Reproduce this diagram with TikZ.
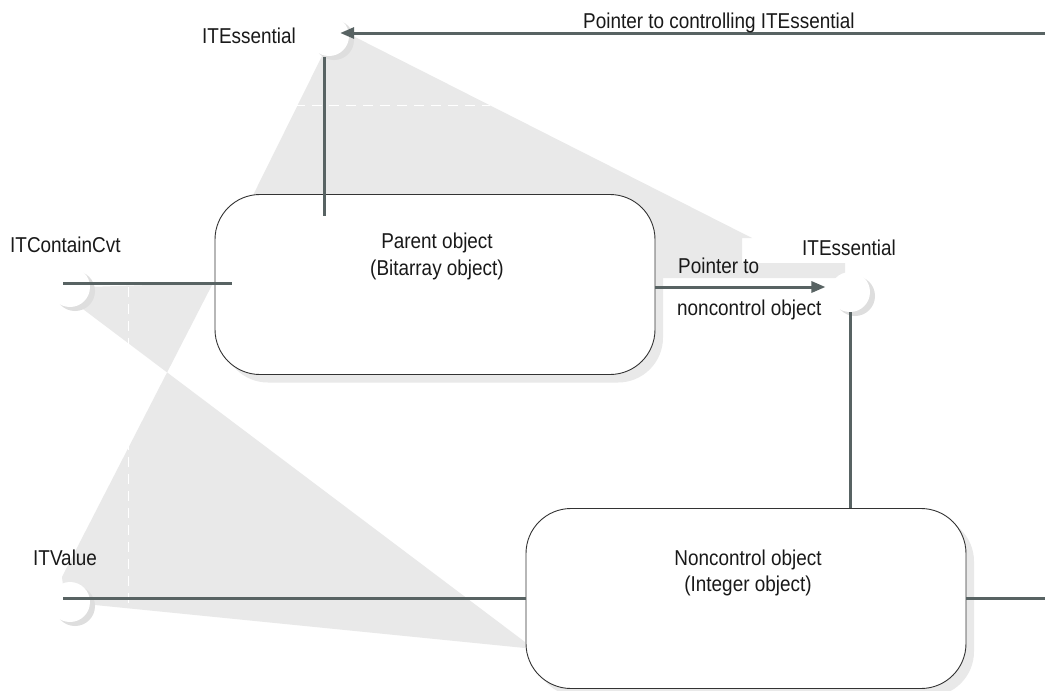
\documentclass[tikz,border=0pt]{standalone}
\usepackage{fontspec}
\setmainfont{Liberation Sans}[FakeStretch=0.88]
\usetikzlibrary{arrows.meta,shadows}
\definecolor{conegray}{RGB}{233,233,233}
\definecolor{ballshade}{RGB}{222,222,222}
\definecolor{linegray}{RGB}{88,99,99}
\definecolor{txt}{RGB}{25,25,25}
\begin{document}
\begin{tikzpicture}[x=1pt,y=-1pt,
  cone/.style={fill=conegray,draw=none},
  hiddenline/.style={draw=white,line width=1pt,dash pattern=on 10pt off 7pt},
  wire/.style={draw=linegray,line width=3pt},
  ptr/.style={wire,-{Triangle[length=14pt,width=11pt]}},
  obj/.style={draw=black!80,line width=0.9pt,fill=white,rounded corners=45pt,
    minimum width=440pt,minimum height=180pt,inner sep=0pt,
    drop shadow={shadow xshift=8pt,shadow yshift=-8pt,fill=conegray,opacity=1}},
  ball/.style={circle,fill=white,minimum size=40pt,inner sep=0pt,
    drop shadow={shadow xshift=5pt,shadow yshift=-4pt,fill=ballshade,opacity=1}},
  lbl/.style={inner sep=0pt,font=\fontsize{21.5}{26}\selectfont,text=txt,anchor=base west},
  ctr/.style={lbl,anchor=base}
]
\useasboundingbox[fill=white] (0,0) rectangle (1045,691);

% grey cones
\fill[cone] (324,52) -- (347,33) -- (752,238) -- (742,238) -- (742,263)
  -- (845,263) -- (845,278) -- (230,278) -- (217,268) -- cycle;
\draw[hiddenline] (295,105) -- (490,105);
\fill[cone] (55,288) -- (213,283) -- (62,577) -- (65,602) -- (525,648)
  -- (525,642) -- cycle;
\draw[hiddenline] (128,287) -- (128,608);

% objects
\node[obj] (parent) at (435,284.5) {};
\node[obj] (noncontrol) at (746,598.5) {};

% interface balls
\node[ball] (ess1) at (329,36) {};
\node[ball] (ess2) at (850,292) {};
\node[ball] (bcvt) at (70,287) {};
\node[ball] (bval) at (70,602) {};

% connectors
\coordinate (topR) at (1045,33);
\coordinate (rEnd) at (1045,598.5);
\draw[ptr,shorten >=-9pt] (topR) -- (topR -| ess1.east);
\draw[wire] ([xshift=-5pt,yshift=-1pt]ess1.south) -- ++(0,159);
\draw[wire] ([xshift=-7pt,yshift=4pt]bcvt.center) -- ++(169,0);
\draw[ptr] ([yshift=-2.5pt]parent.east) -- ++(170,0);
\draw[wire] (ess2.south) -- (ess2.south |- noncontrol.north);
\draw[wire] ([xshift=-7pt]bval.center |- noncontrol.west) -- (noncontrol.west);
\draw[wire] (noncontrol.east) -- (rEnd);

% labels
\node[lbl] (l1) at (202,43) {ITEssential};
\node[lbl] (l2) at (583,28) {Pointer to controlling ITEssential};
\node[lbl] (l3) at (802,255) {ITEssential};
\node[lbl] (l4) at (10,252) {ITContainCvt};
\node[lbl] (l5) at (33,565) {ITValue};
\node[lbl] (l6) at (678,273) {Pointer to};
\node[lbl] (l7) at (677,315) {noncontrol object};
\node[ctr] (p1) at (437,248) {Parent object};
\node[ctr] (p2) at (437,275) {(Bitarray object)};
\node[ctr] (n1) at (748,565) {Noncontrol object};
\node[ctr] (n2) at (748,591) {(Integer object)};
\end{tikzpicture}
\end{document}
